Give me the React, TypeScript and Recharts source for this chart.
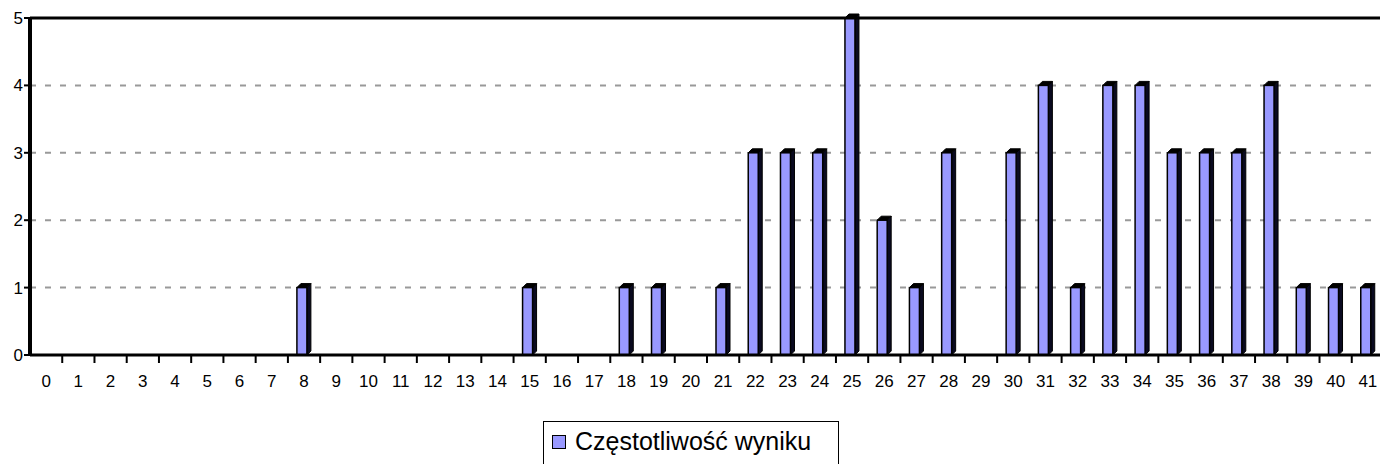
import React from "react";
import { Bar, BarChart, CartesianGrid, ReferenceLine, XAxis, YAxis } from "recharts";

const scores = Array.from({ length: 42 }, (_, i) => String(i));
const counts = [
  0, 0, 0, 0, 0, 0, 0, 0, 1, 0,
  0, 0, 0, 0, 0, 1, 0, 0, 1, 1,
  0, 1, 3, 3, 3, 5, 2, 1, 3, 0,
  3, 4, 1, 4, 4, 3, 3, 3, 4, 1,
  1, 1,
];
const yTicks = [0, 1, 2, 3, 4, 5];
const seriesName = "Częstotliwość wyniku";

const rows = scores.map((s, i) => ({ score: s, count: counts[i] }));

const FONT = '"Liberation Sans", Arial, sans-serif';
const BAR_FILL = "#9999ff";
const PLOT_LEFT = 30;
const PLOT_RIGHT = 1384;
const BAND = (PLOT_RIGHT - PLOT_LEFT) / 42;

function Bar3D(props: any) {
  const { x, y, width, height } = props;
  if (!height || height <= 0) return null;
  const fx = x - 2;
  const d = 4;
  return (
    <g>
      <polygon
        points={`${fx + width},${y} ${fx + width + d},${y - d} ${fx + width + d},${y + height - d} ${fx + width},${y + height}`}
        fill="#0a0a20"
        stroke="#000"
        strokeWidth={1}
      />
      <polygon
        points={`${fx},${y} ${fx + d},${y - d} ${fx + width + d},${y - d} ${fx + width},${y}`}
        fill="#000"
        stroke="#000"
        strokeWidth={1}
      />
      <rect x={fx} y={y} width={width} height={height} fill={BAR_FILL} stroke="#000" strokeWidth={1.5} />
    </g>
  );
}

function XTick(props: any) {
  const { x, y, payload } = props;
  return (
    <g>
      <line x1={x + BAND / 2} x2={x + BAND / 2} y1={y - 8} y2={y} stroke="#000" strokeWidth={2} />
      <text x={x} y={y + 24} textAnchor="middle" fontSize={17} fontFamily={FONT} fill="#000">
        {payload.value}
      </text>
    </g>
  );
}

export default function App() {
  return (
    <div style={{ position: "absolute", left: 0, top: 0, width: 1380, height: 464, background: "#fff", overflow: "hidden" }}>
      <BarChart
        width={1380}
        height={400}
        data={rows}
        margin={{ top: 18, right: 1380 - PLOT_RIGHT, bottom: 0, left: 0 }}
        barCategoryGap={0}
        style={{ overflow: "visible" }}
      >
        <CartesianGrid vertical={false} stroke="#999" strokeWidth={2} strokeDasharray="6 9" />
        <ReferenceLine y={5} stroke="#000" strokeWidth={3} ifOverflow="visible" />
        <XAxis
          dataKey="score"
          height={45}
          axisLine={{ stroke: "#000", strokeWidth: 3 }}
          tickLine={false}
          tick={<XTick />}
          interval={0}
        />
        <YAxis
          width={PLOT_LEFT}
          domain={[0, 5]}
          ticks={yTicks}
          interval={0}
          axisLine={{ stroke: "#000", strokeWidth: 4 }}
          tickLine={{ stroke: "#000", strokeWidth: 2 }}
          tickSize={6}
          tickMargin={1}
          tick={{ fill: "#000", fontSize: 17, fontFamily: FONT }}
        />
        <Bar dataKey="count" name={seriesName} barSize={10} shape={<Bar3D />} isAnimationActive={false} />
      </BarChart>
      <div
        style={{
          position: "absolute",
          left: 543,
          top: 421,
          width: 296,
          height: 60,
          border: "1.5px solid #000",
          fontFamily: FONT,
          fontSize: 25,
          color: "#000",
          boxSizing: "border-box",
        }}
      >
        <div style={{ position: "absolute", left: 8, top: 5, display: "flex", alignItems: "center", whiteSpace: "nowrap" }}>
          <span style={{ display: "inline-block", width: 12, height: 12, background: BAR_FILL, border: "1.5px solid #000", marginRight: 9 }} />
          <span>{seriesName}</span>
        </div>
      </div>
    </div>
  );
}
